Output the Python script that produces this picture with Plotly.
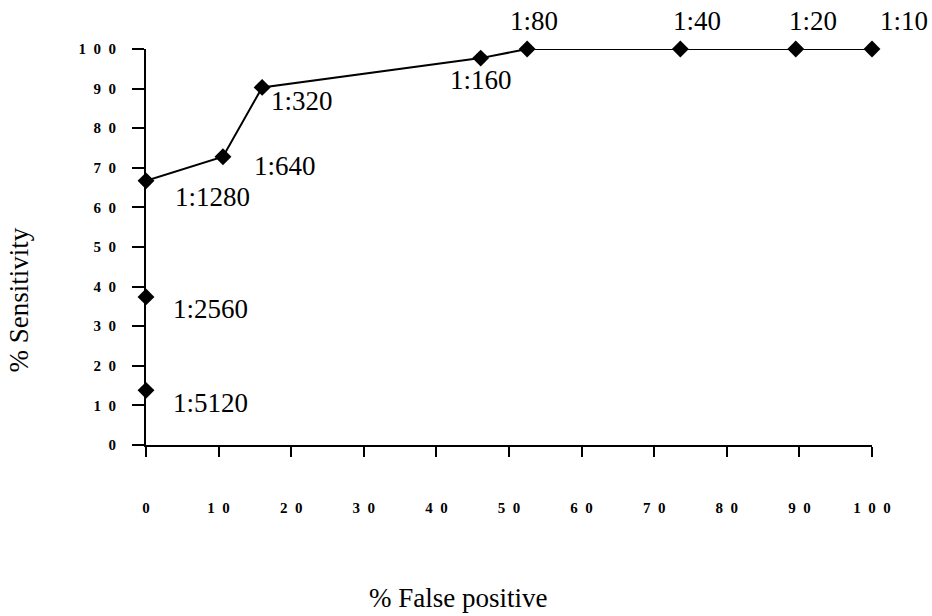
import plotly.graph_objects as go

# Data
false_positive = [0, 0, 0, 10.6, 16.0, 46.1, 52.5, 73.6, 89.5, 100]
sensitivity = [13.8, 37.4, 66.7, 72.8, 90.3, 97.7, 100, 100, 100, 100]
dilutions = ["1:5120", "1:2560", "1:1280", "1:640", "1:320", "1:160",
             "1:80", "1:40", "1:20", "1:10"]
tick_vals = [0, 10, 20, 30, 40, 50, 60, 70, 80, 90, 100]
tick_text = ["0", "1 0", "2 0", "3 0", "4 0", "5 0", "6 0", "7 0", "8 0", "9 0", "1 0 0"]

# label placement (pixel offsets from each point): (xanchor, xshift, yshift)
label_style = [
    ("left", 25, -13),
    ("left", 25, -12),
    ("left", 27, -16),
    ("left", 29, -9),
    ("left", 7, -14),
    ("center", 0, -22),
    ("center", 7, 28),
    ("center", 17, 28),
    ("center", 17, 28),
    ("center", 32, 28),
]

SERIF = "Liberation Serif, Times New Roman, serif"
NB = "\u00a0"

fig = go.Figure()
fig.add_trace(go.Scatter(
    x=false_positive[2:], y=sensitivity[2:], mode="lines",
    line=dict(color="black", width=2), hoverinfo="skip", showlegend=False,
))
fig.add_trace(go.Scatter(
    x=false_positive, y=sensitivity, mode="markers",
    marker=dict(symbol="diamond", size=13, color="black"),
    cliponaxis=False, showlegend=False,
))

for xv, yv, txt, (anc, dx, dy) in zip(false_positive, sensitivity, dilutions, label_style):
    fig.add_annotation(x=xv, y=yv, xref="x", yref="y", text=txt, showarrow=False,
                       xanchor=anc, yanchor="middle", xshift=dx, yshift=dy,
                       font=dict(family=SERIF, size=27, color="black"))

fig.add_annotation(text="% False positive", xref="paper", yref="paper",
                   x=(457.5 - 145.5) / 726.5, y=-(598 - 445) / 396,
                   xanchor="center", yanchor="middle", showarrow=False,
                   font=dict(family=SERIF, size=27, color="black"))
fig.add_annotation(text="% Sensitivity", xref="paper", yref="paper",
                   x=-(145.5 - 18) / 726.5, y=(445 - 300) / 396, textangle=-90,
                   xanchor="center", yanchor="middle", showarrow=False,
                   font=dict(family=SERIF, size=27, color="black"))

tick_labels = ["<b>" + t.replace(" ", NB * 2) + "</b>" for t in tick_text]

axis_common = dict(
    tickvals=tick_vals, ticktext=tick_labels, range=[0, 100],
    showgrid=False, zeroline=False, showline=True, linecolor="black", linewidth=2,
    ticks="outside", tickcolor="black", tickwidth=1.5,
    tickfont=dict(family=SERIF, size=15, color="black"),
)

fig.update_xaxes(**axis_common, ticklen=10, ticklabelstandoff=38)
fig.update_yaxes(**axis_common, ticklen=12, ticklabelstandoff=13)

fig.update_layout(
    width=932, height=616,
    margin=dict(l=145.5, r=60, t=49, b=171),
    plot_bgcolor="white", paper_bgcolor="white",
    showlegend=False,
)

fig.write_html(
    "out.html",
    config={"displayModeBar": False},
    post_script="document.body.style.margin='0';document.body.style.overflow='hidden';",
)
